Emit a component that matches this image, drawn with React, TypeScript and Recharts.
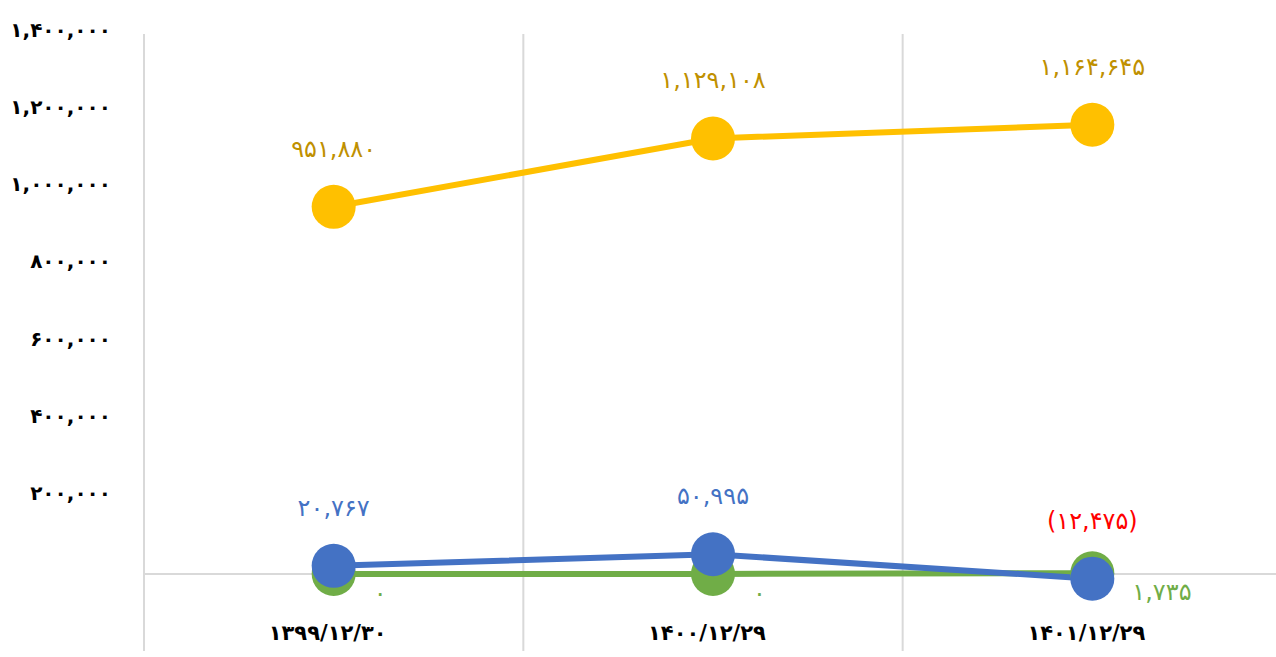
import { CartesianGrid, LabelList, Line, LineChart, XAxis, YAxis } from "recharts";

const categories = ["۱۳۹۹/۱۲/۳۰", "۱۴۰۰/۱۲/۲۹", "۱۴۰۱/۱۲/۲۹"];
const yellowValues = [951880, 1129108, 1164645];
const blueValues = [20767, 50995, -12475];
const greenValues = [0, 0, 1735];
const yTicks = [-200000, 0, 200000, 400000, 600000, 800000, 1000000, 1200000, 1400000];

const YELLOW = "#FFC000";
const BLUE = "#4472C4";
const GREEN = "#70AD47";
const FONT = "DejaVu Sans";

const data = categories.map((name, i) => ({
  pos: i + 0.5,
  name,
  yellow: yellowValues[i],
  blue: blueValues[i],
  green: greenValues[i],
}));

const toFa = (s: string) => s.replace(/\d/g, (d) => "۰۱۲۳۴۵۶۷۸۹"[+d]);
const fmt = (n: number) => toFa(Math.abs(n).toLocaleString("en-US"));

const YTick = (props: any) => {
  const v = props.payload.value;
  const label = v === 0 ? "" : v < 0 ? fmt(v) + "-" : fmt(v);
  return (
    <text x={props.x} y={props.y - 4} textAnchor="end" dominantBaseline="central"
      fontFamily={FONT} fontSize={20} fontWeight="bold" fill="#000">
      {label}
    </text>
  );
};

const XTick = (props: any) => {
  const idx = Math.floor(props.payload.value);
  return (
    <text x={props.x - 6} y={props.y - 18} textAnchor="middle" dominantBaseline="central"
      fontFamily={FONT} fontSize={21} fontWeight="bold" fill="#000">
      {categories[idx]}
    </text>
  );
};

const topLabel = (color: string) => (props: any) => {
  const v = Number(props.value);
  const neg = v < 0;
  return (
    <text x={props.x} y={props.y - 58} textAnchor="middle" dominantBaseline="central"
      fontFamily={FONT} fontSize={24} fill={neg ? "#FF0000" : color}>
      {neg ? `(${fmt(v)})` : fmt(v)}
    </text>
  );
};

const rightLabel = (props: any) => (
  <text x={props.x + 40} y={props.y + 19} textAnchor="start" dominantBaseline="central"
    fontFamily={FONT} fontSize={24} fill={GREEN}>
    {fmt(Number(props.value))}
  </text>
);

export default function App() {
  return (
    <div style={{ position: "absolute", left: 0, top: 0, width: 1276, height: 657, overflow: "hidden", background: "#fff" }}>
      <LineChart width={1282} height={657} data={data} margin={{ top: 34, right: 0, bottom: 0, left: 0 }}>
        <CartesianGrid stroke="#d9d9d9" strokeWidth={2} horizontalValues={[0]} verticalValues={[0, 1, 2, 3]} />
        <XAxis dataKey="pos" type="number" domain={[0, 3]} ticks={[0.5, 1.5, 2.5]}
          height={6} tickSize={0} tickMargin={0} axisLine={false} tickLine={false} tick={<XTick />} />
        <YAxis type="number" domain={[-200000, 1400000]} ticks={yTicks} width={144}
          axisLine={false} tickLine={false} tickMargin={27} tick={<YTick />} />
        <Line dataKey="yellow" stroke={YELLOW} strokeWidth={6} isAnimationActive={false}
          dot={{ r: 22, fill: YELLOW, stroke: "none" }} activeDot={false}>
          <LabelList dataKey="yellow" content={topLabel("#BF9000")} />
        </Line>
        <Line dataKey="green" stroke={GREEN} strokeWidth={6} isAnimationActive={false}
          dot={{ r: 22, fill: GREEN, stroke: "none" }} activeDot={false}>
          <LabelList dataKey="green" content={rightLabel} />
        </Line>
        <Line dataKey="blue" stroke={BLUE} strokeWidth={6} isAnimationActive={false}
          dot={{ r: 22, fill: BLUE, stroke: "none" }} activeDot={false}>
          <LabelList dataKey="blue" content={topLabel(BLUE)} />
        </Line>
      </LineChart>
    </div>
  );
}
